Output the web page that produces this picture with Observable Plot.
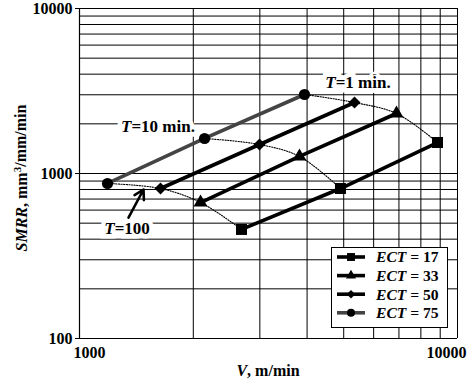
<!DOCTYPE html>
<html><head><meta charset="utf-8">
<script src="https://cdn.jsdelivr.net/npm/d3@7"></script>
<script src="https://cdn.jsdelivr.net/npm/@observablehq/plot@0.6"></script>
<style>body{margin:0;background:#fff}</style>
</head><body><div id="chart"></div>
<script>
// ---- data ----
const ectLevels = ["17", "33", "50", "75"];
const ectSymbols = ["square", "triangle", "diamond2", "circle"];
const ectColors = ["#000", "#000", "#000", "#444"];
const ectRadius = [6.2, 5.2, 5.4, 5.6];
const toolLife = ["100", "10", "1"];           // T (min) for the 1st, 2nd, 3rd point of each ECT line
const vEct17 = [2683, 4902, 8853], smrrEct17 = [458, 811, 1541];
const vEct33 = [2090, 3819, 6896], smrrEct33 = [667, 1268, 2310];
const vEct50 = [1638, 2994, 5340], smrrEct50 = [811, 1499, 2693];
const vEct75 = [1186, 2142, 3938], smrrEct75 = [870, 1630, 3012];
const xTicks = [1000, 10000];
const yTicks = [100, 1000, 10000];
const xGrid = [1000, 2000, 3000, 4000, 5000, 6000, 7000, 8000, 9000, 10000];
const yGrid = [100, 200, 300, 400, 500, 600, 700, 800, 900, 1000, 2000, 3000, 4000, 5000, 6000, 7000, 8000, 9000, 10000];
const annotLabels = ["1 min.", "10 min.", "100"];
const annotV = [5470, 1618, 1340];
const annotSmrr = [3560, 1927, 464];
const arrowFrom = {v: 1348, smrr: 541};
const arrowTo = {v: 1477, smrr: 800};

const vAll = [vEct17, vEct33, vEct50, vEct75];
const sAll = [smrrEct17, smrrEct33, smrrEct50, smrrEct75];
const rows = [];
ectLevels.forEach((e, i) => vAll[i].forEach((v, j) => rows.push({ect: e, T: toolLife[j], v, smrr: sAll[i][j]})));

const font = "'Liberation Serif', 'Times New Roman', serif";

const seriesMarks = [];
ectLevels.forEach((e, i) => {
  const d = rows.filter(r => r.ect === e);
  seriesMarks.push(Plot.line(d, {x: "v", y: "smrr", stroke: ectColors[i], strokeWidth: 3.6}));
});
ectLevels.forEach((e, i) => {
  const d = rows.filter(r => r.ect === e);
  seriesMarks.push(Plot.dot(d, {x: "v", y: "smrr", symbol: () => ectSymbols[i], fill: "#000", stroke: "none", r: ectRadius[i]}));
});

const plot = Plot.plot({
  width: 469, height: 382,
  marginLeft: 79, marginRight: 12, marginTop: 8, marginBottom: 44,
  style: {fontFamily: font, fontSize: "16px", fontWeight: "bold", background: "#fff", color: "#000"},
  x: {type: "log", domain: [1000, 10000]},
  y: {type: "log", domain: [100, 10000]},
  symbol: {type: "identity"},
  marks: [
    Plot.gridX(xGrid, {stroke: "#000", strokeOpacity: 1, strokeWidth: 1}),
    Plot.gridY(yGrid, {stroke: "#000", strokeOpacity: 1, strokeWidth: 1}),
    Plot.ruleX([1000], {stroke: "#000", strokeWidth: 1.2}),
    Plot.ruleY([100], {stroke: "#000", strokeWidth: 1.2}),
    Plot.axisY(yTicks, {tickSize: 4, tickPadding: 3, tickFormat: d => String(d), label: null}),
    Plot.axisX([xTicks[0]], {tickSize: 0, tickPadding: 8, textAnchor: "start", dx: -6, tickFormat: d => String(d), label: null}),
    Plot.axisX([xTicks[1]], {tickSize: 0, tickPadding: 8, textAnchor: "end", dx: 9, tickFormat: d => String(d), label: null}),
    Plot.line(rows, {x: "v", y: "smrr", z: "T", stroke: "#000", strokeWidth: 1.1, strokeDasharray: "1.2,1.4", curve: "catmull-rom"}),
    Plot.arrow([{x1: arrowFrom.v, y1: arrowFrom.smrr, x2: arrowTo.v, y2: arrowTo.smrr}], {x1: "x1", y1: "y1", x2: "x2", y2: "y2", stroke: "#000", strokeWidth: 2.6, headLength: 9, insetEnd: 0}),
    ...seriesMarks
  ]
});

const svg = d3.select(plot);
const sx = plot.scale("x"), sy = plot.scale("y");

function richT(sel, lab) {
  sel.append("tspan").attr("font-style", "italic").text("T");
  sel.append("tspan").text("=" + lab);
}

// annotations (T = ...), inserted beneath the series lines
const firstLine = plot.querySelector('g[aria-label="line"]');
const ann = d3.create("svg:g").attr("font-family", font).attr("font-size", 17).attr("font-weight", "bold").attr("text-anchor", "middle");
annotLabels.forEach((lab, i) => {
  const x = sx.apply(annotV[i]), y = sy.apply(annotSmrr[i]);
  ann.append("text").attr("x", x).attr("y", y).attr("dy", "0.35em")
    .attr("fill", "#fff").attr("stroke", "#fff").attr("stroke-width", 9).attr("stroke-linejoin", "miter")
    .call(t => richT(t, lab));
});
annotLabels.forEach((lab, i) => {
  const x = sx.apply(annotV[i]), y = sy.apply(annotSmrr[i]);
  ann.append("text").attr("x", x).attr("y", y).attr("dy", "0.35em").attr("fill", "#000")
    .call(t => richT(t, lab));
});
plot.insertBefore(ann.node(), firstLine);

// axis titles
svg.append("text")
  .attr("transform", "translate(21,178) rotate(-90)")
  .attr("text-anchor", "middle").attr("dy", "0.35em")
  .attr("font-family", font).attr("font-size", 16).attr("font-weight", "bold")
  .call(t => {
    t.append("tspan").attr("font-style", "italic").text("SMRR");
    t.append("tspan").text(", mm");
    t.append("tspan").attr("font-size", 11).attr("dy", "-0.55em").text("3");
    t.append("tspan").attr("dy", "0.35em").text("/mm/min");
  });
svg.append("text")
  .attr("x", 268).attr("y", 370).attr("dy", "0.35em")
  .attr("text-anchor", "middle")
  .attr("font-family", font).attr("font-size", 16).attr("font-weight", "bold")
  .call(t => {
    t.append("tspan").attr("font-style", "italic").text("V");
    t.append("tspan").text(", m/min");
  });

// legend
const lg = svg.append("g").attr("font-family", font).attr("font-size", 15.6).attr("font-weight", "bold").attr("text-anchor", "start");
lg.append("rect").attr("x", 331.5).attr("y", 247.5).attr("width", 116).attr("height", 80)
  .attr("fill", "#fff").attr("stroke", "#000").attr("stroke-width", 1);
const symGen = {square: d3.symbolSquare, triangle: d3.symbolTriangle, diamond2: d3.symbolDiamond2, circle: d3.symbolCircle};
ectLevels.forEach((e, i) => {
  const cy = 257 + i * 18.6;
  lg.append("line").attr("x1", 337).attr("x2", 365).attr("y1", cy).attr("y2", cy)
    .attr("stroke", ectColors[i]).attr("stroke-width", 3.6);
  const r = ectRadius[i] * 0.72;
  lg.append("path").attr("transform", `translate(351,${cy})`)
    .attr("d", d3.symbol(symGen[ectSymbols[i]], Math.PI * r * r)()).attr("fill", "#000");
  const t = lg.append("text").attr("x", 376).attr("y", cy).attr("dy", "0.35em");
  t.append("tspan").attr("font-style", "italic").text("ECT");
  t.append("tspan").text(" = " + e);
});

document.getElementById("chart").appendChild(plot);
</script>
</body></html>
